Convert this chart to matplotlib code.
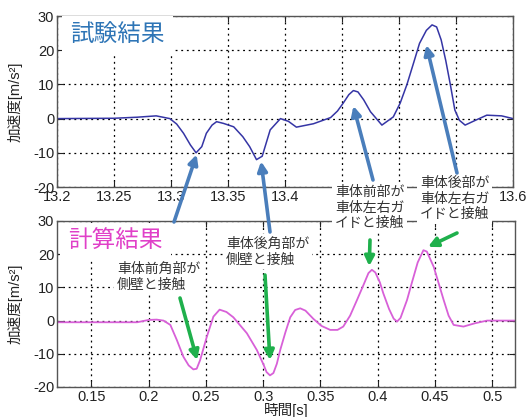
import matplotlib
matplotlib.use('Agg')
import matplotlib.pyplot as plt
from matplotlib.text import Annotation

plt.rcParams['font.family'] = ['Liberation Sans', 'Noto Sans CJK JP', 'DejaVu Sans']
plt.rcParams['axes.unicode_minus'] = False

# test result (top)
t_test = [13.20, 13.25, 13.27, 13.287, 13.299, 13.305, 13.311, 13.317, 13.322, 13.327,
          13.331, 13.336, 13.340, 13.346, 13.355, 13.363, 13.369, 13.375, 13.380, 13.387,
          13.396, 13.403, 13.41, 13.425, 13.44, 13.446, 13.451, 13.456, 13.46, 13.464,
          13.469, 13.475, 13.485, 13.495, 13.501, 13.507, 13.513, 13.518, 13.524, 13.529,
          13.533, 13.537, 13.541, 13.545, 13.549, 13.553, 13.558, 13.567, 13.577, 13.59,
          13.60]
a_test = [0.0, 0.1, 0.4, 0.8, 0.0, -1.6, -4.3, -7.7, -10.0, -8.2,
          -4.3, -1.9, -0.9, -1.4, -2.4, -5.3, -8.2, -12.0, -11.0, -3.3,
          0.0, -0.8, -2.5, -1.5, 0.3, 2.2, 4.5, 7.0, 8.2, 7.8,
          5.5, 2.0, -1.9, 0.5, 4.5, 10.0, 16.5, 22.0, 25.8, 27.4,
          26.8, 23.0, 17.0, 10.0, 2.5, -0.5, -1.9, -0.5, 1.0, 0.8,
          0.0]

# calculation result (bottom)
t_calc = [0.12, 0.19, 0.20, 0.207, 0.213, 0.219, 0.2246, 0.2304, 0.235, 0.2391,
          0.242, 0.245, 0.2509, 0.2566, 0.262, 0.268, 0.274, 0.2858, 0.2946, 0.3003,
          0.303, 0.306, 0.309, 0.312, 0.315, 0.3195, 0.3237, 0.328, 0.3324, 0.337,
          0.344, 0.351, 0.3586, 0.365, 0.370, 0.376, 0.382, 0.388, 0.392, 0.395,
          0.398, 0.402, 0.405, 0.41, 0.414, 0.417, 0.42, 0.4257, 0.43, 0.435,
          0.44, 0.443, 0.449, 0.4577, 0.462, 0.4664, 0.475, 0.485, 0.4956, 0.52]
a_calc = [-0.5, -0.5, 0.2, 0.3, 0.0, -1.3, -5.8, -10.9, -13.5, -14.7,
          -14.5, -11.9, -4.8, 1.2, 3.3, 2.6, 1.0, -3.8, -8.9, -13.2,
          -15.5, -16.5, -15.8, -13.0, -8.8, -3.5, 1.0, 3.2, 3.7, 3.0,
          0.5, -1.6, -2.8, -2.8, -1.8, 1.5, 6.2, 11.0, 14.3, 15.3,
          14.5, 11.5, 8.2, 3.5, 0.6, -0.3, 0.8, 6.2, 11.5, 17.5,
          21.2, 20.8, 16.2, 6.2, 1.5, -1.3, -1.8, -0.8, 0.0, 0.0]

# 13.45 - 13.55 labels sit under the annotation boxes in the original
ticks_test = [13.2, 13.25, 13.3, 13.35, 13.4, 13.45, 13.5, 13.55, 13.6]
labels_test = ['13.2', '13.25', '13.3', '13.35', '13.4', '', '', '', '13.6']
ticks_calc = [0.15, 0.2, 0.25, 0.3, 0.35, 0.4, 0.45, 0.5]
labels_calc = ['0.15', '0.2', '0.25', '0.3', '0.35', '0.4', '0.45', '0.5']
yticks = [-20, -10, 0, 10, 20, 30]

W, H = 531, 417
fig = plt.figure(figsize=(W / 100, H / 100), dpi=100)


def px(x, y):
    return (x / W, 1 - y / H)


ax1 = fig.add_axes([57 / W, 1 - 187 / H, 456 / W, 171 / H])
ax2 = fig.add_axes([57 / W, 1 - 387 / H, 458 / W, 166 / H])

ax1.plot(t_test, a_test, color='#3535a5', lw=1.1)
ax2.plot(t_calc, a_calc, color='#d860d8', lw=1.3)

for ax, ticks, labels, xlim in [(ax1, ticks_test, labels_test, (13.2, 13.6)),
                                 (ax2, ticks_calc, labels_calc, (0.12, 0.52))]:
    ax.set_xlim(*xlim)
    ax.set_ylim(-20, 30)
    ax.set_xticks(ticks)
    ax.set_xticklabels(labels)
    ax.set_yticks(yticks)
    ax.grid(True, color='black', linestyle=(0, (1.5, 3)), lw=0.9)
    ax.tick_params(direction='in', length=4, top=True, right=True,
                   labelsize=10.5, pad=2, colors='#222222')
    for s in ax.spines.values():
        s.set_color('#555555')
        s.set_linewidth(1.0)
    ax.set_ylabel('加速度[m/s²]', fontsize=10.5, color='#222222')
    ax.yaxis.set_label_coords(-0.075, 0.5)

ax2.set_xlabel('時間[s]', fontsize=10.5, color='#222222')
ax2.xaxis.set_label_coords(0.5, -0.095)

box = dict(facecolor='white', edgecolor='none', pad=2)

fig.text(*px(70, 35), '試験結果', fontsize=17, color='#2e75b6', va='center', ha='left',
         bbox=dict(facecolor='white', edgecolor='none', pad=6), zorder=5)
fig.text(*px(68, 242), '計算結果', fontsize=17, color='#e040c8', va='center', ha='left',
         bbox=dict(facecolor='white', edgecolor='none', pad=6), zorder=5)

notes = [
    ((117, 262), '車体前角部が\n側壁と接触'),
    ((226, 237), '車体後角部が\n側壁と接触'),
    ((335, 185), '車体前部が\n車体左右ガ\nイドと接触'),
    ((420, 176), '車体後部が\n車体左右ガ\nイドと接触'),
]
for (x, y), s in notes:
    fig.text(*px(x, y), s, fontsize=10, color='#333333', va='top', ha='left',
             linespacing=1.15, bbox=box, zorder=5)

blue = '#4a7ebb'
green = '#1fb04c'
arrows = [
    (ax1, (13.3225, -10.5), (174, 222), blue),
    (ax1, (13.379, -12.5), (270, 232), blue),
    (ax1, (13.46, 3.7), (373, 180), blue),
    (ax1, (13.524, 21.5), (457, 173), blue),
    (ax2, (0.2424, -11.9), (180, 298), green),
    (ax2, (0.306, -11.9), (265, 275), green),
    (ax2, (0.3927, 16.4), (370, 240), green),
    (ax2, (0.444, 22.2), (457, 233), green),
]
for ax, tip, tail, c in arrows:
    ann = Annotation('', xy=tip, xycoords=ax.transData, xytext=px(*tail),
                     textcoords='figure fraction',
                     arrowprops=dict(arrowstyle='-|>', color=c, lw=2.6,
                                     mutation_scale=14, shrinkA=0, shrinkB=0))
    ann.set_zorder(6)
    fig.add_artist(ann)

fig.savefig('out.png', dpi=100, facecolor='white')
